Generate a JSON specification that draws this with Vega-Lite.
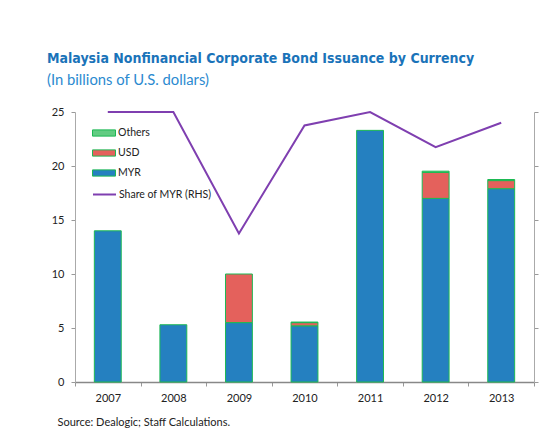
{
  "$schema": "https://vega.github.io/schema/vega-lite/v6.json",
  "width": 459,
  "height": 270,
  "autosize": {"type": "none"},
  "padding": {"left": 75, "top": 112, "right": 19, "bottom": 66},
  "background": "white",
  "config": {
    "font": "Lato",
    "view": {"stroke": null},
    "axis": {"grid": false, "labelFont": "Lato", "labelFontSize": 11, "labelColor": "#222222", "domainColor": "#999999", "tickColor": "#999999"}
  },
  "title": {
    "text": "Malaysia Nonfinancial Corporate Bond Issuance by Currency",
    "subtitle": "(In billions of U.S. dollars)",
    "anchor": "start",
    "frame": "group",
    "dx": -28,
    "offset": 18,
    "font": "DejaVu Sans Condensed",
    "fontSize": 14,
    "fontWeight": "bold",
    "color": "#1a73b9",
    "subtitleFont": "Lato",
    "subtitleFontSize": 14.8,
    "subtitleColor": "#2b8ad0",
    "subtitlePadding": 7
  },
  "datasets": {
    "bars": [
      {"year": "2007", "currency": "MYR", "value": 14.0, "ord": 1},
      {"year": "2008", "currency": "MYR", "value": 5.3, "ord": 1},
      {"year": "2009", "currency": "MYR", "value": 5.5, "ord": 1},
      {"year": "2009", "currency": "USD", "value": 4.5, "ord": 2},
      {"year": "2010", "currency": "MYR", "value": 5.2, "ord": 1},
      {"year": "2010", "currency": "USD", "value": 0.3, "ord": 2},
      {"year": "2010", "currency": "Others", "value": 0.05, "ord": 3},
      {"year": "2011", "currency": "MYR", "value": 23.3, "ord": 1},
      {"year": "2012", "currency": "MYR", "value": 17.0, "ord": 1},
      {"year": "2012", "currency": "USD", "value": 2.4, "ord": 2},
      {"year": "2012", "currency": "Others", "value": 0.12, "ord": 3},
      {"year": "2013", "currency": "MYR", "value": 17.9, "ord": 1},
      {"year": "2013", "currency": "USD", "value": 0.75, "ord": 2},
      {"year": "2013", "currency": "Others", "value": 0.1, "ord": 3}
    ],
    "share": [
      {"year": "2007", "share": 100, "series": "Share of MYR (RHS)"},
      {"year": "2008", "share": 100, "series": "Share of MYR (RHS)"},
      {"year": "2009", "share": 55, "series": "Share of MYR (RHS)"},
      {"year": "2010", "share": 95, "series": "Share of MYR (RHS)"},
      {"year": "2011", "share": 100, "series": "Share of MYR (RHS)"},
      {"year": "2012", "share": 87, "series": "Share of MYR (RHS)"},
      {"year": "2013", "share": 96, "series": "Share of MYR (RHS)"}
    ]
  },
  "layer": [
    {
      "data": {"name": "bars"},
      "mark": {"type": "bar", "width": {"band": 0.41}, "stroke": "#1db954", "strokeWidth": 1},
      "encoding": {
        "x": {
          "field": "year", "type": "ordinal",
          "scale": {"paddingInner": 0, "paddingOuter": 0},
          "axis": {
            "title": "Source: Dealogic; Staff Calculations.",
            "titleFont": "Lato",
            "titleFontSize": 11,
            "titleFontWeight": "normal",
            "titleColor": "#222222",
            "titleAnchor": "start",
            "titleAlign": "left",
            "titleBaseline": "middle",
            "titleX": -18,
            "titleY": 40,
            "labelAngle": 0,
            "labelPadding": 6,
            "tickBand": "extent",
            "tickSize": 4,
            "domainColor": "#888888",
            "domainWidth": 1.5
          }
        },
        "y": {
          "field": "value", "type": "quantitative", "stack": "zero",
          "scale": {"domain": [0, 25], "nice": false},
          "axis": {"title": null, "values": [0, 5, 10, 15, 20, 25], "tickSize": 4, "labelPadding": 7, "domainColor": "#aaaaaa"}
        },
        "fill": {
          "field": "currency", "type": "nominal",
          "scale": {"domain": ["Others", "USD", "MYR"], "range": ["#62cc82", "#e4615c", "#2580c0"]},
          "legend": {
            "title": null,
            "orient": "none",
            "legendX": 17,
            "legendY": 9,
            "symbolType": "M-1,-0.27H1V0.27H-1Z",
            "symbolSize": 529,
            "symbolStrokeColor": "#1db954",
            "symbolStrokeWidth": 1,
            "labelFont": "Lato",
            "labelFontSize": 10.5,
            "labelColor": "#222222",
            "labelOffset": 2,
            "rowPadding": 2
          }
        },
        "order": {"field": "ord", "type": "quantitative"}
      }
    },
    {
      "data": {"name": "share"},
      "mark": {"type": "line", "strokeWidth": 2},
      "encoding": {
        "x": {"field": "year", "type": "ordinal"},
        "y": {
          "field": "share", "type": "quantitative",
          "scale": {"domain": [0, 100], "nice": false},
          "axis": {"orient": "right", "title": null, "labels": false, "values": [0, 20, 40, 60, 80, 100], "tickSize": 4, "domainColor": "#aaaaaa"}
        },
        "stroke": {
          "field": "series", "type": "nominal",
          "scale": {"range": ["#7f3fb0"]},
          "legend": {
            "title": null,
            "orient": "none",
            "legendX": 17,
            "legendY": 70,
            "symbolType": "stroke",
            "symbolSize": 529,
            "symbolStrokeWidth": 2,
            "labelFont": "Lato",
            "labelFontSize": 10.5,
            "labelColor": "#222222",
            "labelOffset": 2
          }
        }
      }
    }
  ],
  "resolve": {"scale": {"y": "independent"}}
}
